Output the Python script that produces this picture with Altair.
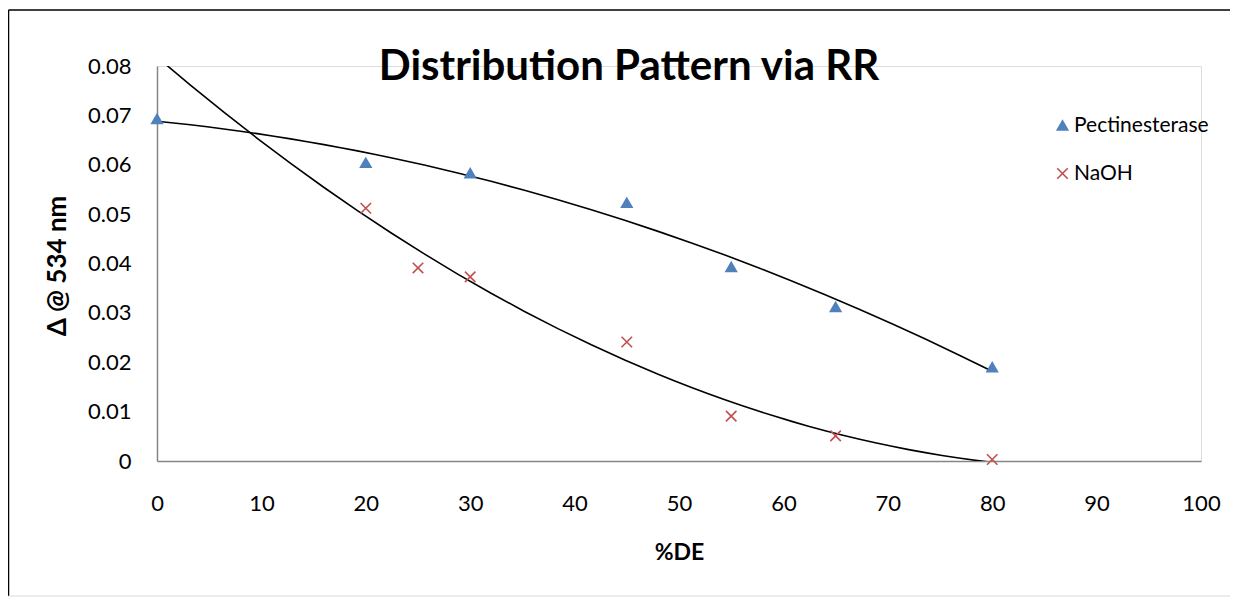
import altair as alt
import pandas as pd

# ---- data ----
pect_de = [0, 20, 30, 45, 55, 65, 80]
pect_val = [0.0693, 0.0604, 0.0583, 0.0523, 0.0393, 0.0312, 0.0190]
naoh_de = [20, 25, 30, 45, 55, 65, 80]
naoh_val = [0.0512, 0.0391, 0.0373, 0.0241, 0.0091, 0.0051, 0.0003]
series_names = ["Pectinesterase", "NaOH"]
x_ticks = [0, 10, 20, 30, 40, 50, 60, 70, 80, 90, 100]
y_ticks = [0, 0.01, 0.02, 0.03, 0.04, 0.05, 0.06, 0.07, 0.08]
title_text = "Distribution Pattern via RR"
x_title = "%DE"
y_title = "Δ @ 534 nm"

df = pd.DataFrame({
    "de": pect_de + naoh_de,
    "val": pect_val + naoh_val,
    "series": [series_names[0]] * len(pect_de) + [series_names[1]] * len(naoh_de),
})

FONT = "Lato"
W, H = 1044, 395
PAD = {"left": 149, "top": 58, "right": 29, "bottom": 136}

xs = alt.Scale(domain=[0, 100], nice=False)
ys = alt.Scale(domain=[0, 0.08], nice=False)

x_axis = alt.Axis(values=x_ticks, title=x_title, grid=False, ticks=False,
                  labelFlush=False, labelOverlap=False,
                  labelPadding=32, labelFontSize=22, labelFont=FONT, labelColor="#000",
                  titleFont=FONT, titleFontSize=23, titleFontWeight="bold", titleColor="#000",
                  titleX=W / 2, titleY=91, titleBaseline="middle",
                  domainColor="#868686", domainWidth=1.5)
y_axis = alt.Axis(values=y_ticks, format="~g", title=y_title, grid=False, ticks=False,
                  labelFlush=False, labelOverlap=False,
                  labelPadding=26, labelFontSize=22, labelFont=FONT, labelColor="#000",
                  titleFont=FONT, titleFontSize=26, titleFontWeight="bold", titleColor="#000",
                  titleX=-100, titleY=H / 2 + 2, titleAngle=-90, titleAlign="center",
                  titleBaseline="middle",
                  domainColor="#868686", domainWidth=1.5)

base = alt.Chart(df)

trend = base.transform_regression(
    "de", "val", method="poly", order=2, extent=[0, 80], groupby=["series"]
).mark_line(color="black", strokeWidth=1.6, clip=True).encode(
    x=alt.X("de:Q", scale=xs, axis=x_axis),
    y=alt.Y("val:Q", scale=ys, axis=y_axis),
    detail="series:N",
)

cross_path = "M-1,-1L1,1M-1,1L1,-1"
pts = base.mark_point(filled=False, size=110, strokeWidth=1.6, opacity=1).encode(
    x=alt.X("de:Q", scale=xs),
    y=alt.Y("val:Q", scale=ys),
    color=alt.Color("series:N", scale=alt.Scale(domain=series_names, range=["#4F81BD", "#C0504D"]),
                    legend=alt.Legend(title=None, orient="none", legendX=895, legendY=49,
                                      labelFont=FONT, labelFontSize=21, labelColor="#000",
                                      symbolSize=110, symbolStrokeWidth=1.6, rowPadding=26,
                                      labelOffset=1)),
    shape=alt.Shape("series:N", scale=alt.Scale(domain=series_names, range=["triangle-up", cross_path])),
    fill=alt.Fill("series:N", scale=alt.Scale(domain=series_names, range=["#4F81BD", "transparent"])),
)

title = alt.Chart(pd.DataFrame({"t": [title_text]})).mark_text(
    font=FONT, fontSize=42, fontWeight="bold", color="black", align="center", baseline="alphabetic"
).encode(text="t:N", x=alt.value(472), y=alt.value(14))

border_df = pd.DataFrame({"k": [0]})
border_left = alt.Chart(border_df).mark_rule(color="black", strokeWidth=1.5).encode(
    x=alt.value(-148.5), y=alt.value(-56), y2=alt.value(H + 135))
border_top = alt.Chart(border_df).mark_rule(color="black", strokeWidth=1.5).encode(
    x=alt.value(-148.5), x2=alt.value(W + 29), y=alt.value(-56))
border_bottom = alt.Chart(border_df).mark_rule(color="#d9d9d9", strokeWidth=1).encode(
    x=alt.value(-148.5), x2=alt.value(W + 29), y=alt.value(H + 135))

chart = alt.layer(trend, pts, title, border_left, border_top, border_bottom).properties(
    width=W, height=H, autosize=alt.AutoSizeParams(type="none"), padding=PAD
).configure_view(stroke=None).configure(background="white")

chart.save("out.html", embed_options={"renderer": "svg", "actions": False})
